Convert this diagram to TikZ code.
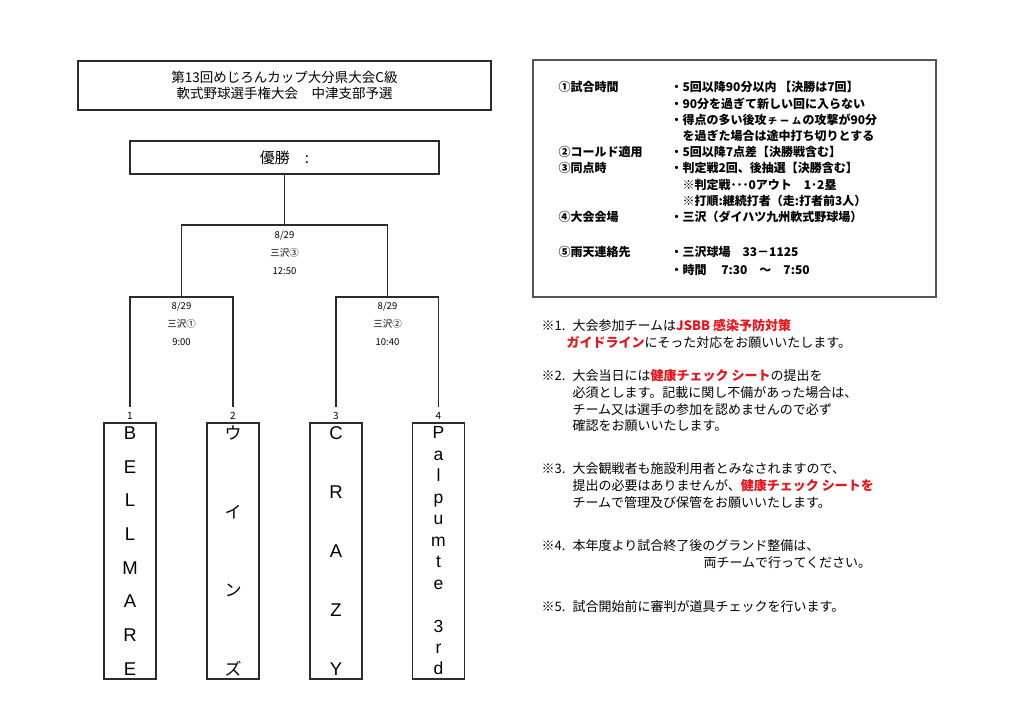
\documentclass[tikz,border=0pt]{standalone}
\usepackage{fontspec}
\setmainfont{Noto Sans CJK JP}
\newfontfamily\arialfont{Liberation Sans}
\usetikzlibrary{positioning}
\definecolor{cdark}{HTML}{2B2B2B}
\definecolor{cgrey}{HTML}{555555}
\definecolor{cred}{HTML}{E8141B}
\newcommand{\hot}[1]{{\bfseries\color{cred}#1}}
\newcommand{\sm}[1]{\makebox[1em]{\fontsize{9}{10}\selectfont #1}}
\tikzset{
  every picture/.style={line width=1.2pt},
  titlebox/.style={draw=cdark, line width=2pt, minimum width=413pt, minimum height=49pt, align=center, font=\fontsize{13.5}{15.5}\selectfont},
  winbox/.style={draw=cdark, line width=1.8pt, minimum width=309pt, minimum height=33pt, font=\fontsize{15}{18}\selectfont},
  teambox/.style={draw=cdark, line width=1.5pt, minimum width=52pt, minimum height=256pt, inner sep=0pt, align=center},
  num/.style={inner sep=1pt, font=\fontsize{10}{12}\selectfont},
  match/.style={align=center, inner sep=0pt, font=\fontsize{9.5}{18}\selectfont},
  bracket/.style={draw=cdark, line width=1.2pt},
  leaf/.style={bracket, shorten <=4pt, shorten >=4pt},
  infobox/.style={draw=cgrey, line width=1.3pt, minimum width=403pt, minimum height=237pt},
  rules/.style={anchor=north west, inner sep=0pt, font=\bfseries\fontsize{12}{16.2}\selectfont},
  note/.style={anchor=north west, inner sep=0pt, font=\fontsize{13}{16.7}\selectfont},
}
\begin{document}
\begin{tikzpicture}[x=1pt, y=-1pt]
  \useasboundingbox (0,0) rectangle (1024,724);
  \node[titlebox] (title) at (284.5,85.5) {第13回めじろんカップ大分県大会C級\\軟式野球選手権大会　中津支部予選};
  \node[winbox] (win) at (284.5,157.5) {優勝　:};

  \node[teambox, font=\arialfont\fontsize{18.5}{33.71}\selectfont] (t1) at (130,551) {B\\E\\L\\L\\M\\A\\R\\E};
  \node[teambox, font=\fontsize{17}{78.67}\selectfont] (t2) at (233,551) {ウ\\イ\\ン\\ズ};
  \node[teambox, font=\arialfont\fontsize{18.5}{59}\selectfont] (t3) at (336,551) {C\\R\\A\\Z\\Y};
  \node[teambox, font=\arialfont\fontsize{17.5}{21.45}\selectfont] (t4) at (438.5,551) {P\\a\\l\\p\\u\\m\\t\\e\\\mbox{}\\3\\r\\d};
  \node[num, above=1pt of t1] (n1) {1};
  \node[num, above=1pt of t2] (n2) {2};
  \node[num, above=1pt of t3] (n3) {3};
  \node[num, above=1pt of t4] (n4) {4};

  \coordinate (j1) at (181.5,297);
  \coordinate (j2) at (387.5,297);
  \coordinate (j3) at (284.5,225);
  \node[match] (m1) at (181.5,324) {8/29\\三沢①\\9:00};
  \node[match] (m2) at (387.5,324) {8/29\\三沢②\\10:40};
  \node[match] (m3) at (284.5,253) {8/29\\三沢③\\12:50};

  \draw[leaf] (n1.north) |- (j1) -| (n2.north);
  \draw[leaf] (n3.north) |- (j2) -| (n4.north);
  \draw[bracket] (j1) |- (j3) -| (j2);
  \draw[bracket] (win.south) -- (j3);

  \node[infobox] (info) at (734.5,178.5) {};
  \node[rules] (rule) at (558,80) {\begin{tabular}[t]{@{}p{112pt}@{}l@{}}
    ①試合時間 & ・5回以降90分以内 【決勝は7回】\\
    & ・90分を過ぎて新しい回に入らない\\
    & ・得点の多い後攻\sm{チ}\sm{ー}\sm{ム}の攻撃が90分\\
    & 　を過ぎた場合は途中打ち切りとする\\
    ②コールド適用 & ・5回以降7点差【決勝戦含む】\\
    ③同点時 & ・判定戦2回、後抽選【決勝含む】\\
    & 　※判定戦･･･0アウト　1･2塁\\
    & 　※打順:継続打者（走:打者前3人）\\
    ④大会会場 & ・三沢（ダイハツ九州軟式野球場）\\[18.8pt]
    ⑤雨天連絡先 & ・三沢球場　33－1125\\[1.8pt]
    & ・時間　 7:30　～　7:50
  \end{tabular}};

  \node[note] (note1) at (541,318.3) {\begin{tabular}[t]{@{}p{31pt}@{}l@{}}
    ※1. & 大会参加チームは\hot{JSBB 感染予防対策}\\
    & \hspace*{-6pt}\hot{ガイドライン}にそった対応をお願いいたします。
  \end{tabular}};
  \node[note] (note2) at (541,368.3) {\begin{tabular}[t]{@{}p{31pt}@{}l@{}}
    ※2. & 大会当日には\hot{健康チェック シート}の提出を\\
    & 必須とします。記載に関し不備があった場合は、\\
    & チーム又は選手の参加を認めませんので必ず\\
    & 確認をお願いいたします。
  \end{tabular}};
  \node[note] (note3) at (541,461.3) {\begin{tabular}[t]{@{}p{31pt}@{}l@{}}
    ※3. & 大会観戦者も施設利用者とみなされますので、\\
    & 提出の必要はありませんが、\hot{健康チェック シートを}\\
    & チームで管理及び保管をお願いいたします。
  \end{tabular}};
  \node[note] (note4) at (541,538.3) {\begin{tabular}[t]{@{}p{31pt}@{}l@{}}
    ※4. & 本年度より試合終了後のグランド整備は、\\
    & \hspace*{131pt}両チームで行ってください。
  \end{tabular}};
  \node[note] (note5) at (541,599.3) {\begin{tabular}[t]{@{}p{31pt}@{}l@{}}
    ※5. & 試合開始前に審判が道具チェックを行います。
  \end{tabular}};
\end{tikzpicture}
\end{document}
